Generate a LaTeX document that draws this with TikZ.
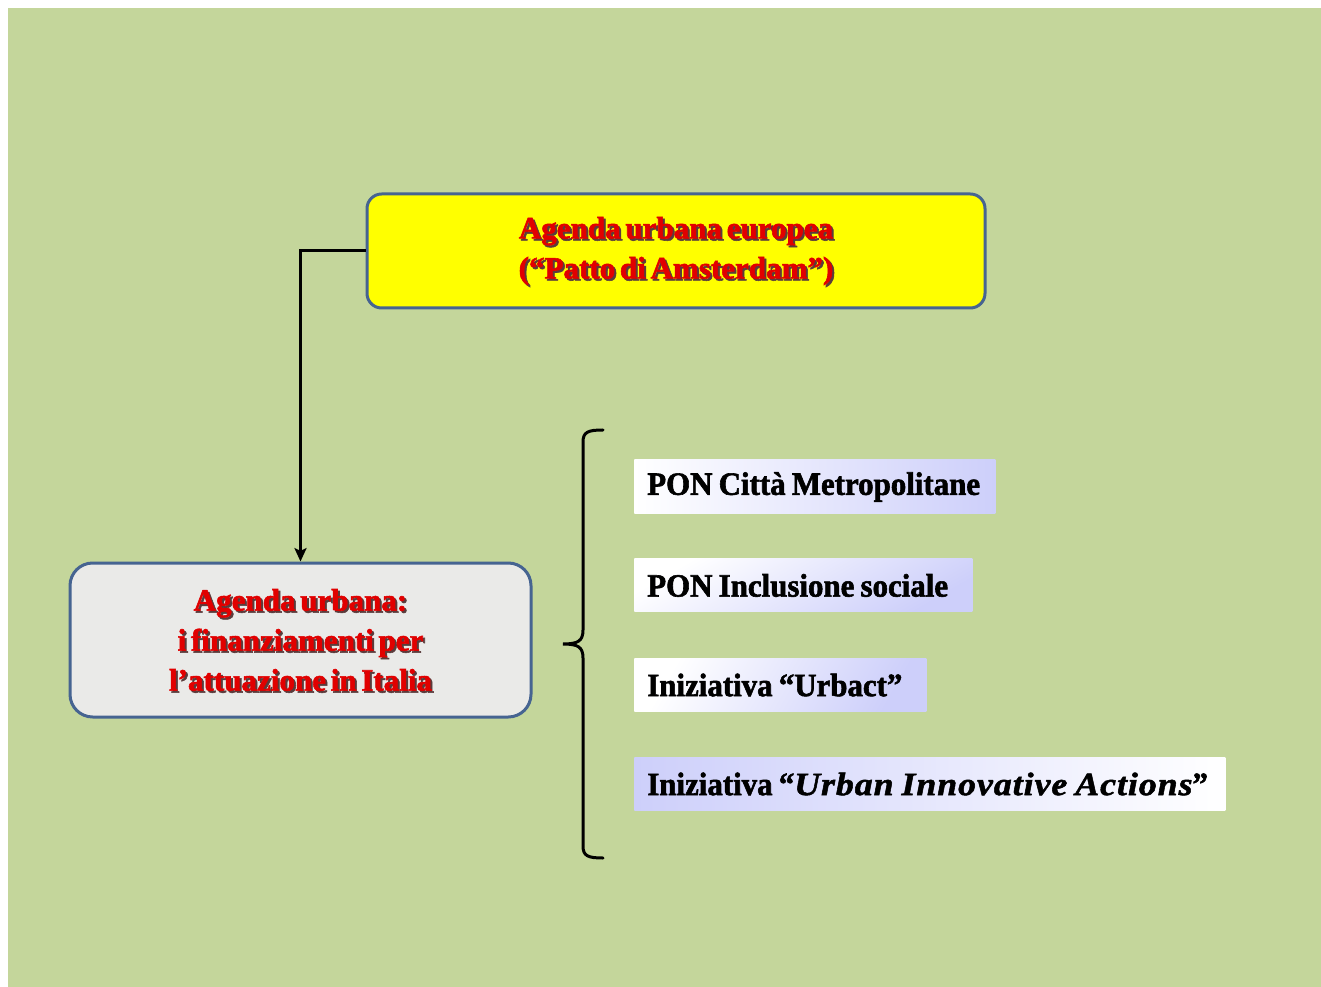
\documentclass[tikz,border=0pt]{standalone}
\usepackage{fontspec}
\setmainfont{Liberation Serif}
\newfontfamily\heavy[FakeStretch=1.0,FakeBold=1.8,WordSpace=0.6]{Liberation Serif Bold}
\newfontfamily\itemfont[FakeStretch=0.95,FakeBold=1.8,WordSpace=0.8]{Liberation Serif Bold}
\newfontfamily\itemit[FakeStretch=1.1,FakeBold=1.6,WordSpace=0.8,LetterSpace=3]{Liberation Serif Bold Italic}
\usetikzlibrary{arrows.meta}
\definecolor{bg}{RGB}{196,214,155}
\definecolor{ybox}{RGB}{255,255,0}
\definecolor{bord}{RGB}{70,100,145}
\definecolor{gbox}{RGB}{234,234,232}
\definecolor{rtext}{RGB}{225,0,0}
\definecolor{shad}{RGB}{90,60,60}
\definecolor{lav}{RGB}{205,207,250}
\tikzset{
  mainbox/.style={draw=bord, line width=2.25pt, align=center, inner sep=0pt},
  redtxt/.style={text=rtext, font=\heavy\fontsize{23.3}{30}\selectfont, align=center, inner sep=0pt},
  shadtxt/.style={text=shad, font=\heavy\fontsize{23.3}{30}\selectfont, align=center, inner sep=0pt},
  itembox/.style={anchor=west, inner sep=0pt, minimum height=39.75pt},
  itemtxt/.style={anchor=west, inner sep=0pt, font=\itemfont\fontsize{24.4}{26}\selectfont, text=black},
  conn/.style={line width=2.25pt, draw=black},
  brace/.style={line width=2.25pt, draw=black, line cap=round}
}
\begin{document}
\begin{tikzpicture}[x=0.75pt,y=-0.75pt]
\useasboundingbox (0,0) rectangle (1321,987);
\fill[white] (0,0) rectangle (1321,987);
\fill[bg] (8,8) rectangle (1321,987);

% top box
\node[mainbox, fill=ybox, rounded corners=11pt, minimum width=463.5pt, minimum height=85.5pt] (top) at (676,251) {};
\node[shadtxt] (topS) at (678,253) {Agenda urbana europea\\(“Patto di Amsterdam”)};
\node[redtxt] (topT) at (676,251) {Agenda urbana europea\\(“Patto di Amsterdam”)};

% left box
\node[mainbox, fill=gbox, rounded corners=17pt, minimum width=345.75pt, minimum height=115.5pt] (left) at (300.5,640) {};
\node[shadtxt] (leftS) at (302.5,642) {Agenda urbana:\\i finanziamenti per\\l’attuazione in Italia};
\node[redtxt] (leftT) at (300.5,640) {Agenda urbana:\\i finanziamenti per\\l’attuazione in Italia};

% connector
\draw[conn, -{Stealth[length=10pt,width=9pt,inset=2pt]}] (top.west) -| (left.north);

% items
\node[itembox, left color=white, right color=lav, minimum width=270.75pt] (i1) at (634,486.5) {};
\node[itemtxt] (i1t) at (647,487) {PON Città Metropolitane};
\node[itembox, top color=white, bottom color=lav, shading angle=30, minimum width=253.5pt] (i2) at (634,585) {};
\node[itemtxt] (i2t) at (647,585.5) {PON Inclusione sociale};
\node[itembox, left color=white, right color=lav, shading angle=60, minimum width=219pt] (i3) at (634,684.5) {};
\node[itemtxt] (i3t) at (647,685) {Iniziativa “Urbact”};
\node[itembox, left color=lav, right color=white, minimum width=443.25pt] (i4) at (634,783.5) {};
\node[itemtxt] (i4t) at (647,784) {Iniziativa “{\itemit Urban Innovative Actions}”};

% brace
\draw[brace] (603,430) .. controls (588,430) and (583,432) .. (583,442)
  -- (583,630) .. controls (583,641) and (578,644) .. (563,644)
  .. controls (578,644) and (583,647) .. (583,658)
  -- (583,846) .. controls (583,856) and (588,858) .. (603,858);
\end{tikzpicture}
\end{document}
